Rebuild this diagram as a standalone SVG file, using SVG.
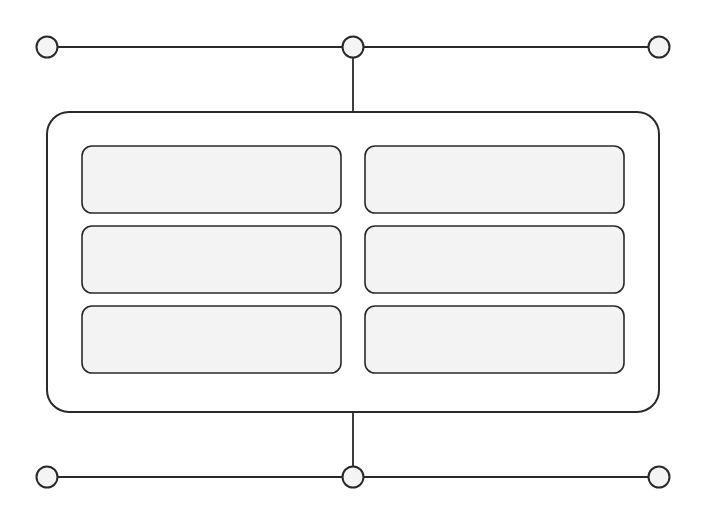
<svg xmlns="http://www.w3.org/2000/svg" width="706" height="523" viewBox="0 0 706 523">
<style>
.ln{stroke:#2a2a2a;stroke-width:1.8;fill:none}
.dot{fill:#f4f4f4;stroke:#2a2a2a;stroke-width:2}
.outer{fill:#ffffff;stroke:#2a2a2a;stroke-width:2}
.cell{fill:#f3f3f3;stroke:#2a2a2a;stroke-width:1.6}
</style>
<rect width="706" height="523" fill="#ffffff"/>
<g id="connectors">
<line class="ln" x1="57" y1="47" x2="343" y2="47"/>
<line class="ln" x1="363" y1="47" x2="649" y2="47"/>
<line class="ln" x1="353" y1="57" x2="353" y2="112"/>
<line class="ln" x1="353" y1="412" x2="353" y2="467"/>
<line class="ln" x1="57" y1="477" x2="343" y2="477"/>
<line class="ln" x1="363" y1="477" x2="649" y2="477"/>
</g>
<g id="container"><rect class="outer" x="47" y="112" width="612" height="300" rx="22"/></g>
<g id="cell-1-1"><rect class="cell" x="82" y="146" width="259" height="67" rx="10"/></g>
<g id="cell-1-2"><rect class="cell" x="365" y="146" width="259" height="67" rx="10"/></g>
<g id="cell-2-1"><rect class="cell" x="82" y="226" width="259" height="67" rx="10"/></g>
<g id="cell-2-2"><rect class="cell" x="365" y="226" width="259" height="67" rx="10"/></g>
<g id="cell-3-1"><rect class="cell" x="82" y="306" width="259" height="67" rx="10"/></g>
<g id="cell-3-2"><rect class="cell" x="365" y="306" width="259" height="67" rx="10"/></g>
<g id="node-top-left"><circle class="dot" cx="47" cy="47" r="10.5"/></g>
<g id="node-top-mid"><circle class="dot" cx="353" cy="47" r="10.5"/></g>
<g id="node-top-right"><circle class="dot" cx="659" cy="47" r="10.5"/></g>
<g id="node-bottom-left"><circle class="dot" cx="47" cy="477" r="10.5"/></g>
<g id="node-bottom-mid"><circle class="dot" cx="353" cy="477" r="10.5"/></g>
<g id="node-bottom-right"><circle class="dot" cx="659" cy="477" r="10.5"/></g>
</svg>
